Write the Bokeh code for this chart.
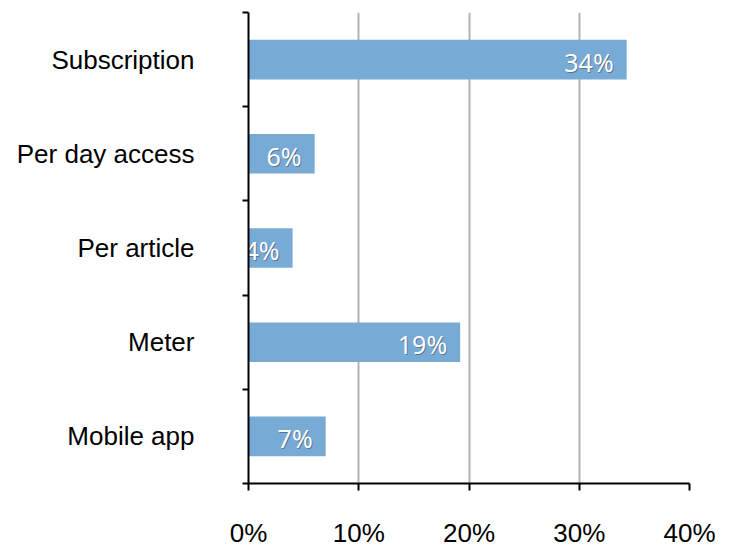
from bokeh.plotting import figure
from bokeh.models import ColumnDataSource, FixedTicker, Range1d
from bokeh.core.properties import value
from bokeh.embed import file_html
from bokeh.resources import INLINE

categories = ["Subscription", "Per day access", "Per article", "Meter", "Mobile app"]
values = [34.3, 6.0, 4.0, 19.2, 7.0]
x_ticks = [0, 10, 20, 30, 40]
x_tick_labels = ["0%", "10%", "20%", "30%", "40%"]

n = len(categories)
ypos = [n - i - 0.5 for i in range(n)]
src = ColumnDataSource(dict(cat=categories, val=values, y=ypos,
                            lab=[f"{round(v)}%" for v in values]))

p = figure(width=729, height=550, output_backend="svg", toolbar_location=None,
           x_range=Range1d(0, 40), y_range=Range1d(0, n),
           min_border_left=248, min_border_right=40, min_border_top=12, min_border_bottom=64)
p.outline_line_color = None
p.background_fill_color = "white"
p.border_fill_color = "white"

p.hbar(y="y", right="val", left=0, height=0.42, source=src,
       fill_color="#78aad6", line_color=None)

# shadow then text
p.text(x="val", y="y", text="lab", source=src, text_align="right", text_baseline="middle",
       x_offset=-12, y_offset=3, text_color="#333333", text_alpha=0.45,
       text_font=value("Noto Sans"), text_font_size="25px")
p.text(x="val", y="y", text="lab", source=src, text_align="right", text_baseline="middle",
       x_offset=-13, y_offset=2, text_color="white",
       text_font=value("Noto Sans"), text_font_size="25px")

# x axis
xa = p.xaxis[0]
xa.ticker = FixedTicker(ticks=x_ticks, minor_ticks=[])
xa.major_label_overrides = {t: l for t, l in zip(x_ticks, x_tick_labels)}
xa.axis_line_width = 2
xa.axis_line_color = "black"
xa.major_tick_line_width = 2
xa.major_tick_line_color = "black"
xa.major_tick_out = 7
xa.major_tick_in = 0
xa.major_label_standoff = 27
xa.major_label_text_font = "Liberation Sans"
xa.major_label_text_font_size = "26px"
xa.major_label_text_color = "black"

# y axis
ya = p.yaxis[0]
ya.ticker = FixedTicker(ticks=ypos, minor_ticks=list(range(n + 1)))
ya.major_label_overrides = {y: c for y, c in zip(ypos, categories)}
ya.axis_line_width = 2
ya.axis_line_color = "black"
ya.major_tick_line_color = None
ya.major_tick_out = 0
ya.major_tick_in = 0
ya.minor_tick_line_color = "black"
ya.minor_tick_line_width = 2
ya.minor_tick_out = 6
ya.minor_tick_in = 0
ya.major_label_standoff = 48
ya.major_label_text_font = "Liberation Sans"
ya.major_label_text_font_size = "26px"
ya.major_label_text_color = "black"

p.xgrid.ticker = FixedTicker(ticks=x_ticks[1:])
p.xgrid.grid_line_color = "#b3b3b3"
p.xgrid.grid_line_width = 2
p.ygrid.grid_line_color = None

open("out.html", "w").write(file_html(p, INLINE))
